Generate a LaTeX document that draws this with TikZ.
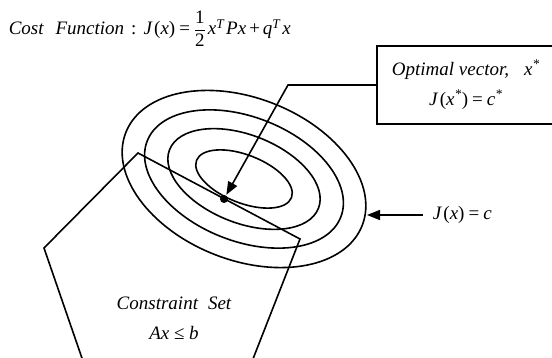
\documentclass[tikz,border=0pt]{standalone}
\usepackage{fontspec}
\usepackage{amsmath}
\setmainfont{Liberation Serif}
\usetikzlibrary{arrows.meta}
\newcommand{\up}[1]{\textup{#1}}
\newcommand{\hs}[1]{\hspace{#1pt}}
\begin{document}
\begin{tikzpicture}[x=1pt,y=-1pt, line width=1.6pt,
  lbl/.style={font=\fontsize{19}{30}\selectfont\itshape, inner sep=0pt},
  tip/.style={-{Triangle[length=13pt,width=10pt]}},
  contour/.style={draw, line width=1.6pt}]
\useasboundingbox (0,0) rectangle (552,358);
\clip (0,0) rectangle (552,358);
% title
\node[lbl, anchor=base west] (title) at (8,35)
  {Cost\hs{12}Function\hs{7}\up{:}\hs{7}J\hs{1.5}\up{(}x\up{)}\hs{4}\up{=}\hs{4}$\dfrac{\textup{1}}{\textup{2}}$\hs{2}x\textsuperscript{T}\hs{2}Px\hs{3}\up{+}\hs{3}q\textsuperscript{T}\hs{2}x};
% level sets
\begin{scope}[shift={(244,179)}, rotate=-21.5]
  \draw[contour] (0,0) ellipse [x radius=51, y radius=24];
  \draw[contour] (0,0) ellipse [x radius=80, y radius=44];
  \draw[contour] (0,0) ellipse [x radius=104, y radius=62];
  \draw[contour] (0,0) ellipse [x radius=127, y radius=81];
\end{scope}
% constraint set
\draw[line join=miter] (84,364) -- (44,248) -- (138,153) -- (300,239) -- (251,364);
\node[lbl, align=center] (cset) at (174,318) {Constraint\hs{10}Set\\ Ax \up{≤} b};
% optimum
\node[circle, fill, inner sep=0pt, minimum size=8pt] (dot) at (224,199) {};
\node[lbl, draw, line width=1.6pt, anchor=north west, minimum width=178pt, minimum height=78pt, align=center] (box) at (376,45)
  {Optimal vector,\hs{15}x\textsuperscript{*}\\ J\hs{1.5}\up{(}x\textsuperscript{*}\up{)}\hs{4}\up{=}\hs{4}c\textsuperscript{*}};
\coordinate (bend) at (288,85);
\draw[tip] (box.west |- bend) -- (bend) -- (dot);
% level label
\node[lbl, anchor=west] (jc) at (432,215) {J\hs{1.5}\up{(}x\up{)}\hs{4}\up{=}\hs{4}c};
\coordinate (jtip) at (367,215);
\draw[tip] ([xshift=-9pt]jc.west) -- (jtip);
\end{tikzpicture}
\end{document}
